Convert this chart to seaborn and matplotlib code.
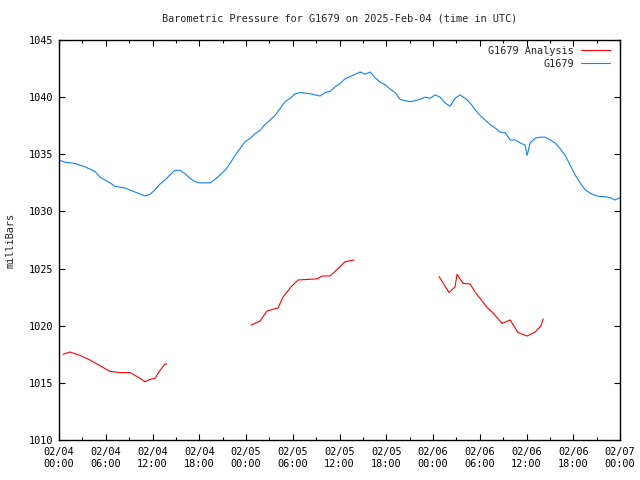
import matplotlib
matplotlib.use("Agg")
import matplotlib.pyplot as plt
from matplotlib.ticker import MultipleLocator, FixedLocator
import numpy as np
import pandas as pd
import seaborn as sns

title = "Barometric Pressure for G1679 on 2025-Feb-04 (time in UTC)"
y_label = "milliBars"
obs_name = "G1679"
ana_name = "G1679 Analysis"

# x tick labels (every 6 hours from 02/04 00:00)
x_ticks = [0, 6, 12, 18, 24, 30, 36, 42, 48, 54, 60, 66, 72]
x_tick_labels = ["02/04\n00:00", "02/04\n06:00", "02/04\n12:00", "02/04\n18:00",
                 "02/05\n00:00", "02/05\n06:00", "02/05\n12:00", "02/05\n18:00",
                 "02/06\n00:00", "02/06\n06:00", "02/06\n12:00", "02/06\n18:00",
                 "02/07\n00:00"]
y_ticks = [1010, 1015, 1020, 1025, 1030, 1035, 1040, 1045]

# observed pressure (hours since 02/04 00:00 UTC)
obs_hours = [0.0, 0.77, 2.05, 3.34, 4.62, 5.26, 6.55, 7.19, 8.47, 9.76, 11.04, 11.68,
             12.32, 12.97, 13.61, 14.25, 14.89, 15.53, 16.17, 16.82, 17.46, 18.1,
             19.38, 20.03, 20.67, 21.31, 21.95, 22.59, 23.23, 23.88, 24.52, 25.16,
             25.8, 26.44, 27.09, 27.73, 28.37, 29.01, 29.65, 30.3, 30.94, 32.22,
             33.5, 34.15, 34.79, 35.43, 36.07, 36.71, 37.36, 38.0, 38.64, 39.28,
             39.92, 40.56, 41.21, 41.85, 42.49, 43.13, 43.77, 44.42, 45.06, 46.34,
             46.98, 47.63, 48.27, 48.91, 49.55, 50.19, 50.83, 51.48, 52.12, 52.76,
             53.4, 54.04, 54.69, 55.33, 55.97, 56.61, 57.25, 57.9, 58.54, 59.18,
             59.82, 60.08, 60.46, 61.1, 61.75, 62.39, 63.03, 63.67, 64.31, 64.96,
             65.6, 66.24, 66.88, 67.52, 68.16, 68.81, 69.45, 70.09, 70.73, 71.37, 72.0]
obs_mbar = [1034.5, 1034.3, 1034.2, 1033.9, 1033.5, 1033.0, 1032.5, 1032.2, 1032.05,
            1031.7, 1031.35, 1031.5, 1031.9, 1032.4, 1032.75, 1033.2, 1033.6, 1033.6,
            1033.3, 1032.9, 1032.6, 1032.5, 1032.5, 1032.8, 1033.2, 1033.6, 1034.2,
            1034.9, 1035.5, 1036.1, 1036.4, 1036.8, 1037.1, 1037.6, 1038.0, 1038.4,
            1039.0, 1039.6, 1039.9, 1040.3, 1040.4, 1040.3, 1040.1, 1040.4, 1040.5,
            1040.9, 1041.2, 1041.6, 1041.8, 1042.0, 1042.2, 1042.0, 1042.2, 1041.7,
            1041.3, 1041.1, 1040.7, 1040.4, 1039.8, 1039.7, 1039.6, 1039.8, 1040.0,
            1039.9, 1040.2, 1040.0, 1039.5, 1039.2, 1039.9, 1040.2, 1039.9, 1039.5,
            1038.9, 1038.4, 1038.0, 1037.6, 1037.3, 1036.95, 1036.9, 1036.25, 1036.25,
            1036.0, 1035.8, 1034.9, 1036.0, 1036.4, 1036.5, 1036.5, 1036.25, 1036.0,
            1035.5, 1034.9, 1034.05, 1033.2, 1032.5, 1031.9, 1031.6, 1031.4, 1031.3,
            1031.3, 1031.2, 1031.0, 1031.2]

# analysis segments
ana1_hours = [0.51, 1.41, 2.7, 3.98, 5.26, 6.55, 7.83, 9.11, 10.4, 11.04, 11.68, 12.32, 12.97, 13.61, 13.86]
ana1_mbar = [1017.5, 1017.7, 1017.4, 1017.0, 1016.5, 1016.0, 1015.9, 1015.9, 1015.4, 1015.1, 1015.3, 1015.4, 1016.1, 1016.65, 1016.65]
ana2_hours = [24.65, 25.8, 26.7, 28.11, 28.75, 29.78, 30.68, 33.12, 33.76, 34.79, 35.82, 36.71, 37.87]
ana2_mbar = [1020.05, 1020.4, 1021.3, 1021.55, 1022.5, 1023.4, 1024.0, 1024.1, 1024.35, 1024.35, 1025.0, 1025.6, 1025.75]
ana3_hours = [48.78, 50.06, 50.83, 51.09, 51.86, 52.76, 53.4, 54.04, 54.94, 55.71, 56.87, 57.9, 58.92, 60.08, 61.1, 61.87, 62.13]
ana3_mbar = [1024.3, 1022.9, 1023.4, 1024.5, 1023.7, 1023.65, 1022.95, 1022.4, 1021.6, 1021.1, 1020.2, 1020.5, 1019.4, 1019.1, 1019.45, 1020.0, 1020.6]

frames = []
for seg, (h, v, name) in enumerate([
        (ana1_hours, ana1_mbar, ana_name),
        (ana2_hours, ana2_mbar, ana_name),
        (ana3_hours, ana3_mbar, ana_name),
        (obs_hours, obs_mbar, obs_name)]):
    frames.append(pd.DataFrame({"hours": h, "mbar": v, "series": name, "segment": seg}))
df = pd.concat(frames, ignore_index=True)

sns.set_style("ticks")
plt.rcParams["font.family"] = ["DejaVu Sans Mono"]
plt.rcParams["font.size"] = 7.4

fig = plt.figure(figsize=(6.4, 4.8), dpi=100)
ax = fig.add_axes([59 / 640, 40 / 480, 561 / 640, 400 / 480])

sns.lineplot(data=df, x="hours", y="mbar", hue="series", units="segment",
             estimator=None, sort=False, hue_order=[ana_name, obs_name],
             palette={ana_name: "#ff0000", obs_name: "#1080ff"},
             linewidth=0.8, ax=ax)

ax.set_xlim(0, 72)
ax.set_ylim(1010, 1045)
ax.xaxis.set_major_locator(FixedLocator(x_ticks))
ax.set_xticklabels(x_tick_labels)
ax.xaxis.set_minor_locator(MultipleLocator(3))
ax.set_yticks(y_ticks)
ax.set_yticklabels([str(t) for t in y_ticks])
ax.tick_params(which="both", direction="in", top=True, right=True, color="black",
               labelsize=7.4, labelcolor="black", width=0.8)
ax.tick_params(which="major", length=4, pad=4)
ax.tick_params(axis="x", which="major", pad=5)
ax.tick_params(which="minor", length=2)
for sp in ax.spines.values():
    sp.set_visible(True)
    sp.set_color("black")
    sp.set_linewidth(1.0)

ax.set_xlabel("")
ax.set_ylabel(y_label, fontsize=7.4, labelpad=10)
ax.set_title(title, fontsize=7.4, pad=13)

handles, labels = ax.get_legend_handles_labels()
ax.legend(handles, labels, loc="upper right", bbox_to_anchor=(0.982, 0.985),
          frameon=False, markerfirst=False,
          fontsize=7.4, handlelength=2.8, handletextpad=0.7, labelspacing=0.3,
          borderaxespad=0.0, borderpad=0.0)

fig.savefig("out.png", dpi=100)
